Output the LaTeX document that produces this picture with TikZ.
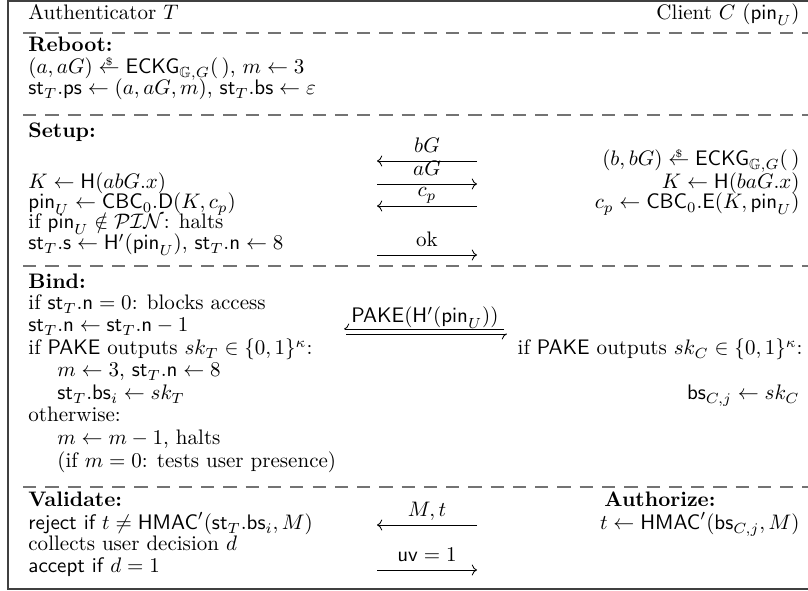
\documentclass[tikz,border=0pt]{standalone}
\usepackage{amsmath,amssymb}
\usetikzlibrary{arrows.meta}
\newcommand{\alg}[1]{\mathsf{#1}}
% sampling arrow: left arrow with a small dollar sign set over it
\newcommand{\samp}{\mathrel{\mbox{\ooalign{$\leftarrow$\cr\hfil\raisebox{4.2pt}{$\scriptscriptstyle\$$}\hfil\cr}}}}
\tikzset{
  lt/.style={anchor=base west, inner sep=0pt},
  rt/.style={anchor=base east, inner sep=0pt},
  lbl/.style={anchor=base, inner sep=0pt},
  msg/.style={-{Computer Modern Rightarrow}, line width=0.4pt},
  harp/.style={-{Computer Modern Rightarrow[harpoon,swap]}, line width=0.4pt},
  sep/.style={draw=black!55, line width=0.9pt, dash pattern=on 6.3pt off 4.3pt},
  frame/.style={draw=black!75, line width=0.9pt}
}
\begin{document}
\begin{tikzpicture}[x=0.476pt, y=-0.476pt]
\useasboundingbox (0,0) rectangle (808,591);
% outer frame (its right side lies past the page edge)
\draw[frame] (8,0.6) rectangle (840,589);
% section separators
\foreach \y in {33,115,266,487} \draw[sep] (23,\y) -- (808,\y);

% header
\node[lt] (hT) at (28,20) {Authenticator $T$};
\node[rt] (hC) at (800,20) {Client $C$ ($\alg{pin}_U$)};

% Reboot
\node[lt] (rb) at (28,52) {\textbf{Reboot:}};
\node[lt] (rb1) at (28,74) {$(a, aG) \samp \alg{ECKG}_{\mathbb{G},G}(\,)$, $m \leftarrow 3$};
\node[lt] (rb2) at (28,95) {$\alg{st}_T.\alg{ps} \leftarrow (a, aG, m)$, $\alg{st}_T.\alg{bs} \leftarrow \varepsilon$};

% Setup
\node[lt] (su) at (28,138) {\textbf{Setup:}};
\node[rt] (suC1) at (800,166) {$(b, bG) \samp \alg{ECKG}_{\mathbb{G},G}(\,)$};
\node[lt] (suT1) at (28,189) {$K \leftarrow \alg{H}(abG.x)$};
\node[rt] (suC2) at (800,189) {$K \leftarrow \alg{H}(baG.x)$};
\node[lt] (suT2) at (28,209) {$\alg{pin}_U \leftarrow \alg{CBC}_0.\alg{D}(K, c_p)$};
\node[rt] (suC3) at (800,209) {$c_p \leftarrow \alg{CBC}_0.\alg{E}(K, \alg{pin}_U)$};
\node[lt] (suT3) at (28,229) {if $\alg{pin}_U \notin \mathcal{PIN}$: halts};
\node[lt] (suT4) at (28,250) {$\alg{st}_T.\alg{s} \leftarrow \alg{H}'(\alg{pin}_U)$, $\alg{st}_T.\alg{n} \leftarrow 8$};

\coordinate (m1L) at (377,161); \coordinate (m1R) at (477,161);
\coordinate (m2L) at (377,184); \coordinate (m2R) at (477,184);
\coordinate (m3L) at (377,206); \coordinate (m3R) at (477,206);
\coordinate (m4L) at (377,255); \coordinate (m4R) at (477,255);
\node[lbl] (l1) at (427,153) {$bG$};
\node[lbl] (l2) at (427,176) {$aG$};
\node[lbl] (l3) at (427,197) {$c_p$};
\node[lbl] (l4) at (427,247) {ok};
\draw[msg] (m1R) -- (m1L);
\draw[msg] (m2L) -- (m2R);
\draw[msg] (m3R) -- (m3L);
\draw[msg] (m4L) -- (m4R);

% Bind
\node[lt] (bd) at (28,289) {\textbf{Bind:}};
\node[lt] (bd1) at (28,310) {if $\alg{st}_T.\alg{n} = 0$: blocks access};
\node[lt] (bd2) at (28,332) {$\alg{st}_T.\alg{n} \leftarrow \alg{st}_T.\alg{n} - 1$};
\node[lt] (bd3) at (28,355) {if $\alg{PAKE}$ outputs $sk_T \in \{0,1\}^\kappa$:};
\node[lt] (bd4) at (57,377) {$m \leftarrow 3$, $\alg{st}_T.\alg{n} \leftarrow 8$};
\node[lt] (bd5) at (57,400) {$\alg{st}_T.\alg{bs}_i \leftarrow sk_T$};
\node[lt] (bd6) at (28,422) {otherwise:};
\node[lt] (bd7) at (57,445) {$m \leftarrow m - 1$, halts};
\node[lt] (bd8) at (57,468) {(if $m = 0$: tests user presence)};
\node[rt] (bdC1) at (803,355) {if $\alg{PAKE}$ outputs $sk_C \in \{0,1\}^\kappa$:};
\node[rt] (bdC2) at (800,400) {$\alg{bs}_{C,j} \leftarrow sk_C$};

% PAKE exchange (double harpoon)
\coordinate (pkL1) at (344,329); \coordinate (pkR1) at (504,329);
\coordinate (pkL2) at (346,334); \coordinate (pkR2) at (507,334);
\node[lbl] (pkl) at (425,323) {$\alg{PAKE}(\alg{H}'(\alg{pin}_U))$};
\draw[harp] (pkR1) -- (pkL1);
\draw[harp] (pkL2) -- (pkR2);

% Validate / Authorize
\node[lt] (va) at (28,507) {\textbf{Validate:}};
\node[lt] (va1) at (28,530) {$\textsf{reject if } t \neq \alg{HMAC}'(\alg{st}_T.\alg{bs}_i, M)$};
\node[lt] (va2) at (28,551) {collects user decision $d$};
\node[lt] (va3) at (28,573) {$\textsf{accept if } d = 1$};
\node[lt] (au) at (604,507) {\textbf{Authorize:}};
\node[rt] (au1) at (800,530) {$t \leftarrow \alg{HMAC}'(\alg{bs}_{C,j}, M)$};

\coordinate (m5L) at (377,525); \coordinate (m5R) at (477,525);
\coordinate (m6L) at (377,570); \coordinate (m6R) at (477,570);
\node[lbl] (l5) at (427,517) {$M, t$};
\node[lbl] (l6) at (427,562) {$\alg{uv} = 1$};
\draw[msg] (m5R) -- (m5L);
\draw[msg] (m6L) -- (m6R);
\end{tikzpicture}
\end{document}
